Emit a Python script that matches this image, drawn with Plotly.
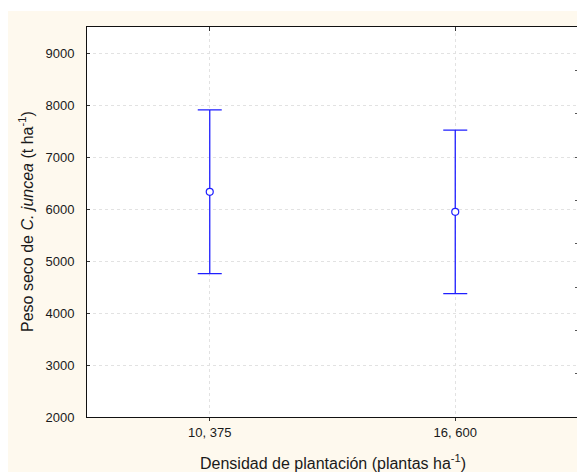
import plotly.graph_objects as go

categories = ["10, 375", "16, 600"]
means = [6330, 5945]
err_upper = [1578, 1573]
err_lower = [1572, 1572]
y_ticks = [2000, 3000, 4000, 5000, 6000, 7000, 8000, 9000]
x_title = "Densidad de plantación (plantas ha<sup>-1</sup>)"
y_title = "Peso seco de <i>C. juncea</i> (t ha<sup>-1</sup>)"

BEIGE = "#FEF9EE"
BLUE = "#1F1FFF"
FONT = "Liberation Sans, Arial, sans-serif"

# figure-pixel geometry of the plot area
L, T, W, H = 79, 19, 491, 390

fig = go.Figure()
fig.add_trace(go.Scatter(
    x=categories, y=means, mode="markers",
    marker=dict(symbol="circle", size=7, color="white", line=dict(color=BLUE, width=1.2)),
    error_y=dict(type="data", symmetric=False, array=err_upper, arrayminus=err_lower,
                 color=BLUE, thickness=1.3, width=12),
    showlegend=False, hoverinfo="skip",
))
# overlay axes: top ticks + right-hand tick scale, and inner left ticks
fig.add_trace(go.Scatter(x=[None], y=[None], xaxis="x2", yaxis="y2",
                         showlegend=False, hoverinfo="skip"))
fig.add_trace(go.Scatter(x=[None], y=[None], xaxis="x", yaxis="y3",
                         showlegend=False, hoverinfo="skip"))

fig.update_layout(
    width=585, height=472,
    margin=dict(l=L, r=585 - L - W, t=T, b=472 - T - H, autoexpand=False),
    paper_bgcolor=BEIGE, plot_bgcolor="white",
    font=dict(family=FONT, size=13, color="#1a1a1a"),
    xaxis=dict(
        type="category", range=[-0.5, 1.5],
        showline=True, linecolor="#111111", linewidth=1, mirror=True,
        ticks="outside", ticklen=3, tickcolor="#333333",
        showgrid=True, gridcolor="#E2E2E2", griddash="dot", gridwidth=1,
        zeroline=False, automargin=False,
        tickfont=dict(size=13),
    ),
    yaxis=dict(
        range=[2000, 9500], tickvals=y_ticks,
        showline=True, linecolor="#111111", linewidth=1,
        ticks="outside", ticklen=9, tickcolor="rgba(0,0,0,0)",
        showgrid=True, gridcolor="#E2E2E2", griddash="dot", gridwidth=1,
        zeroline=False, automargin=False,
        tickfont=dict(size=13),
    ),
    yaxis3=dict(
        overlaying="y", side="left", range=[2000, 9500], tickvals=y_ticks,
        showline=False, ticks="inside", ticklen=3, tickcolor="#333333",
        showticklabels=False, showgrid=False, zeroline=False,
    ),
    xaxis2=dict(
        overlaying="x", side="top", range=[-0.5, 1.5], tickmode="array", tickvals=[0, 1],
        showline=False, ticks="inside", ticklen=4, tickcolor="#333333",
        showticklabels=False, showgrid=False, zeroline=False,
    ),
    yaxis2=dict(
        overlaying="y", side="right", range=[0, 9], dtick=1,
        showline=False, ticks="inside", ticklen=3, tickcolor="#555555",
        showticklabels=False, showgrid=False, zeroline=False,
    ),
    shapes=[
        dict(type="rect", xref="paper", yref="paper", x0=-0.3, x1=1.1,
             y0=(T + H - 3) / H, y1=1.2, fillcolor="white", line_width=0, layer="below"),
        dict(type="line", xref="paper", yref="paper", x0=1, x1=1, y0=-0.002, y1=1.002,
             line=dict(color="#7f7f7f", width=2), layer="above"),
    ],
    annotations=[
        dict(text=x_title, xref="paper", yref="paper", x=0.5, y=(T + H - 454) / H,
             xanchor="center", yanchor="middle", showarrow=False, font=dict(size=16)),
        dict(text=y_title, xref="paper", yref="paper", x=(18 - L) / W, y=0.5,
             xanchor="center", yanchor="middle", textangle=-90, showarrow=False,
             font=dict(size=16)),
    ],
)

fig.write_html("out.html")
